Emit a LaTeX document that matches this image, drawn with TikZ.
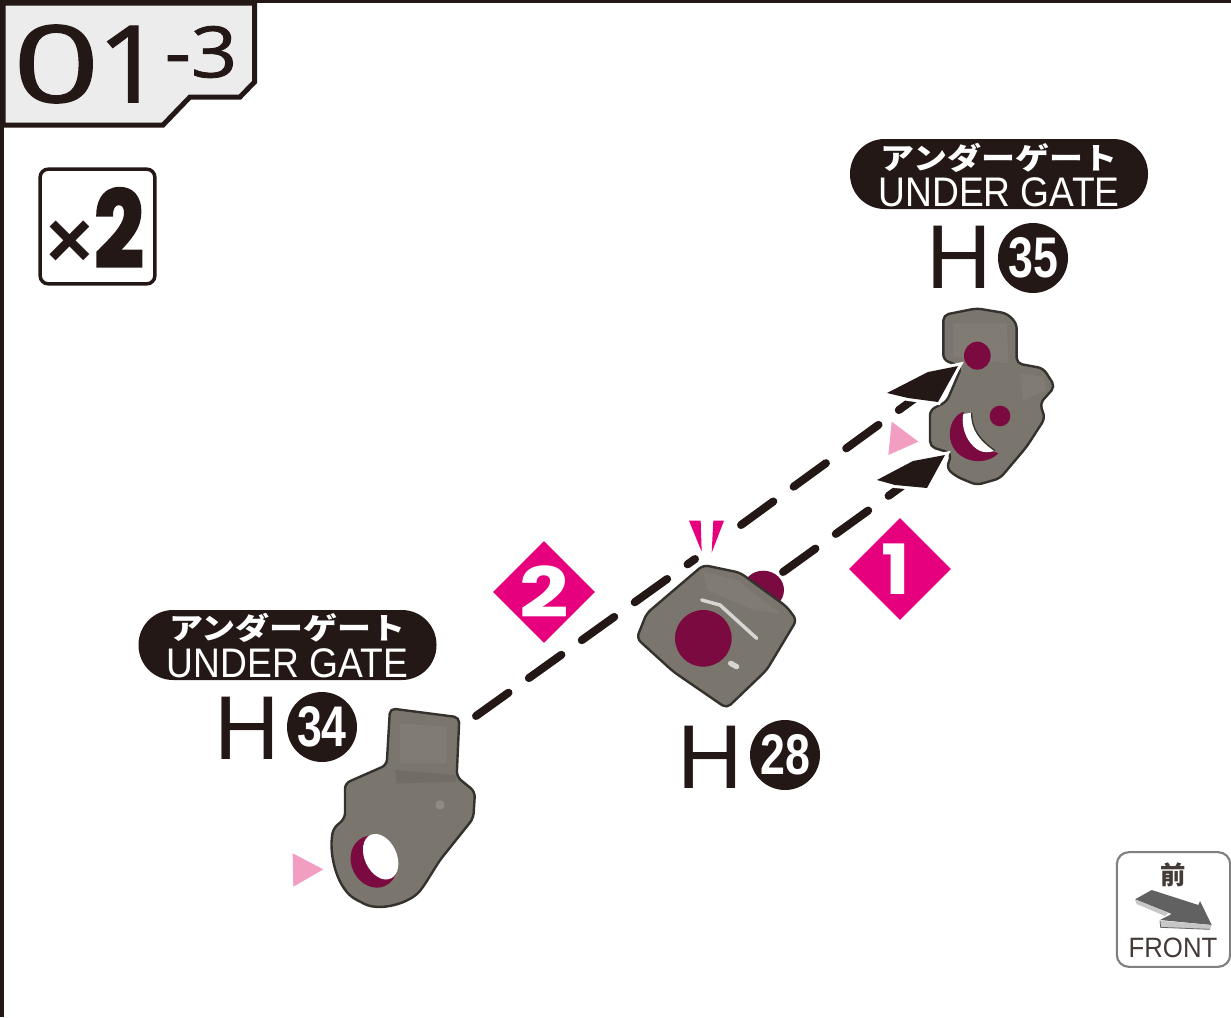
\documentclass[tikz,border=0pt]{standalone}
\usepackage{fontspec}
\setmainfont{Liberation Sans}
\newfontfamily\cjk{Noto Sans CJK JP}
\newfontfamily\pop{Poppins}
\newfontfamily\heavy[FakeBold=3]{Poppins Bold}
\newfontfamily\titlef[FakeBold=1.2]{Open Sans}
\usetikzlibrary{shapes.geometric}
\definecolor{ink}{HTML}{231815}
\definecolor{magentaM}{HTML}{E6007E}
\definecolor{crimson}{HTML}{7B0A40}
\definecolor{pinkT}{HTML}{F29EC2}
\definecolor{partgray}{HTML}{7A766E}
\definecolor{partlight}{HTML}{8F8B83}
\definecolor{partdark}{HTML}{625E58}
\definecolor{partedge}{HTML}{35312D}
\definecolor{panel}{HTML}{ECECEC}
\tikzset{
  partbody/.style={fill=partgray,draw=partedge,line width=1.8pt,rounded corners=4pt,line join=round},
  softlight/.style={fill=partlight,opacity=.3},
  softdark/.style={fill=partdark,opacity=.35},
  hole/.style={fill=crimson},
  pinktri/.style={fill=pinkT},
  dashline/.style={draw=ink,line width=6pt,line cap=round,dash pattern=on 30pt off 18.8pt},
  headtip/.style={fill=ink,preaction={draw=white,line width=4.5pt,line join=miter}},
  pill/.style={fill=ink,rounded corners=26pt,minimum width=223.5pt,minimum height=52.5pt,inner sep=0pt},
  pillkana/.style={text=white,inner sep=0pt,font=\cjk\bfseries\fontsize{25.5}{26}\selectfont},
  pillen/.style={text=white,inner sep=0pt,font=\fontsize{31}{32}\selectfont},
  partH/.style={text=ink,inner sep=0pt,font=\fontsize{68}{70}\selectfont},
  numc/.style={circle,fill=ink,text=white,minimum size=52.5pt,inner sep=0pt,font=\bfseries\fontsize{43}{44}\selectfont},
  stepmark/.style={diamond,fill=magentaM,text=white,minimum size=76.5pt,inner sep=0pt,aspect=1,font=\pop\bfseries\fontsize{52}{54}\selectfont},
}
\begin{document}
\begin{tikzpicture}[x=.75pt,y=-.75pt]
\useasboundingbox (0,0) rectangle (1231,1017);
\fill[white] (0,0) rectangle (1231,1017);
% page border
\fill[ink] (0,0) rectangle (1231,3);
\fill[ink] (0,0) rectangle (3.5,1017);
% title panel
\draw[fill=panel,draw=ink,line width=3.75pt] (3,3) -- (254.5,3) -- (254.5,82) -- (240,97) -- (190,97) -- (163,125) -- (3,125) -- cycle;
\node[inner sep=0pt,text=ink,font=\titlef\fontsize{80}{82}\selectfont] (title) at (88.5,64) {\scalebox{1.42}[1]{0}\kern-2pt\scalebox{1.1}[1]{1}};
\node[inner sep=0pt,text=ink,font=\titlef\fontsize{53}{55}\selectfont] (sub) at (201,52) {\scalebox{1.15}[1]{-3}};
% x2 box
\node[draw=ink,fill=white,line width=2.6pt,rounded corners=6pt,minimum size=86pt,inner sep=0pt] (qty) at (97.5,226.5) {};
\node[anchor=base west,inner sep=0pt,text=ink] (qtytext) at (46,267) {{\bfseries\fontsize{60}{60}\selectfont ×}\hspace{1pt}{\heavy\fontsize{79}{80}\selectfont\scalebox{.82}[1]{2}}};

% part H34
\begin{scope}[shift={(280,690)},x=.25pt,y=-.25pt]
\draw[partbody] (330,55) -- (538,82) -- (530,260) -- (585,305) -- (580,385) -- (480,510) -- (430,590) .. controls (390,640) and (300,665) .. (240,635) .. controls (175,600) and (145,500) .. (160,415) -- (195,385) -- (195,280) -- (320,225) -- cycle;
\fill[softdark] (345,240) -- (525,255) -- (530,275) -- (350,280) -- cycle;
\fill[softlight] (360,100) -- (500,110) -- (500,220) -- (360,220) -- cycle;
\fill[partlight] (480,345) circle (14);
\fill[hole,rotate around={25:(282,515)}] (282,515) ellipse (68 and 80);
\fill[white,rotate around={25:(302,500)}] (302,500) ellipse (48 and 72);
\fill[pinktri] (38,490) -- (130,538) -- (40,590) -- cycle;
\end{scope}
% part H28
\begin{scope}[shift={(620,510)},x=.25pt,y=-.25pt]
\fill[hole] (430,240) ellipse (62 and 58);
\draw[partbody] (250,165) -- (360,188) -- (500,290) -- (530,330) -- (440,480) -- (320,595) -- (160,485) -- (50,385) -- (80,310) -- cycle;
\fill[softlight] (250,185) -- (350,210) -- (480,310) -- (400,300) -- (260,240) -- cycle;
\fill[hole] (250,385) circle (85);
\draw[white!70!partgray,line width=2.6pt,line cap=round] (245,270) -- (300,285) -- (410,385);
\draw[white!70!partgray,line width=4pt,line cap=round] (332,460) -- (350,470);
\fill[magentaM] (207,32) -- (242,32) -- (245,125) -- cycle;
\fill[magentaM] (280,32) -- (312,32) -- (275,128) -- cycle;
\end{scope}
% part H35
\begin{scope}[shift={(880,290)},x=.25pt,y=-.25pt]
\draw[partbody] (190,75) -- (290,55) -- (380,70) -- (410,100) -- (410,220) -- (490,235) -- (525,290) -- (480,340) -- (495,385) -- (440,470) -- (360,565) -- (290,585) -- (230,560) -- (200,535) -- (215,490) -- (150,470) -- (150,360) -- (200,335) -- (245,230) -- (190,210) -- cycle;
\fill[softlight] (220,100) -- (380,100) -- (385,220) -- (220,200) -- cycle;
\fill[softlight] (420,250) -- (490,260) -- (500,300) -- (430,330) -- cycle;
\fill[hole] (292,197) ellipse (40 and 42);
\fill[hole] (360,378) circle (31);
\fill[hole] (250,365) .. controls (210,380) and (195,440) .. (225,480) .. controls (255,520) and (320,525) .. (355,490) -- (300,470) -- (270,420) -- cycle;
\fill[white] (250,372) -- (275,368) .. controls (275,420) and (300,450) .. (345,482) .. controls (310,495) and (285,480) .. (265,450) .. controls (250,425) and (245,395) .. (250,372) -- cycle;
\draw[partedge,line width=1pt] (275,368) .. controls (275,420) and (300,450) .. (345,482);
\fill[pinktri] (35,395) -- (115,455) -- (25,495) -- cycle;
\end{scope}

% connectors
\coordinate (from34) at (476,716);
\coordinate (gap2a) at (695,559);
\coordinate (gap2b) at (741,525);
\coordinate (to35a) at (914,399);
\coordinate (from28) at (783,572);
\coordinate (to35b) at (905,484);
\draw[dashline] (from34) -- (gap2a);
\draw[dashline] (gap2b) -- (to35a);
\draw[dashline] (from28) -- (to35b);
\fill[headtip] (958,366) -- (928,372) -- (887,393) -- (908,398) -- (938,402) -- cycle;
\fill[headtip] (945,455) -- (913,461) -- (877,480) -- (895,485) -- (927,488) -- cycle;

% step marks
\node[stepmark] (step1) at (900,569) {\hspace{-6pt}\scalebox{1.1}[1]{1}};
\node[stepmark] (step2) at (544,592) {\scalebox{1.25}[1]{2}};

% labels
\node[pill] (gateA) at (999,174) {};
\node[pillkana] (gateAk) at (999,157.5) {\scalebox{1}[.88]{アンダーゲート}};
\node[pillen] (gateAe) at (999,192) {\scalebox{.9}[1]{UNDER GATE}};
\node[pill] (gateB) at (287.5,645) {};
\node[pillkana] (gateBk) at (287.5,628) {\scalebox{1}[.88]{アンダーゲート}};
\node[pillen] (gateBe) at (287.5,663) {\scalebox{.9}[1]{UNDER GATE}};

\node[partH] (h35) at (959.5,257.5) {H};
\node[numc] (n35) at (1033,258) {\scalebox{.78}[1]{35}};
\node[partH] (h34) at (247,728) {H};
\node[numc] (n34) at (322,727) {\scalebox{.78}[1]{34}};
\node[partH] (h28) at (710,757) {H};
\node[numc] (n28) at (785,755) {\scalebox{.78}[1]{28}};

% FRONT box
\node[draw=black!50,fill=white,line width=1.6pt,rounded corners=9pt,minimum width=85pt,minimum height=86pt,inner sep=0pt] (front) at (1173.5,909.5) {};
\node[inner sep=0pt,text=ink!85,font=\cjk\bfseries\fontsize{19}{20}\selectfont] (frontk) at (1173,875) {前};
\node[inner sep=0pt,text=ink!85,font=\fontsize{21}{22}\selectfont] (fronte) at (1173,948) {\scalebox{.92}[1]{FRONT}};
\begin{scope}[shift={(1100,840)},x=.25pt,y=-.25pt]
\fill[black!62] (105,178) -- (155,150) -- (295,195) -- (300,183) -- (335,255) -- (180,240) -- (215,222) -- cycle;
\fill[black!22] (105,178) -- (205,218) -- (195,228) -- (110,192) -- cycle;
\fill[black!22] (180,242) -- (335,255) -- (330,268) -- (182,262) -- cycle;
\draw[black!60,line width=.6pt] (180,242) -- (182,262) -- (330,268);
\end{scope}
\end{tikzpicture}
\end{document}
